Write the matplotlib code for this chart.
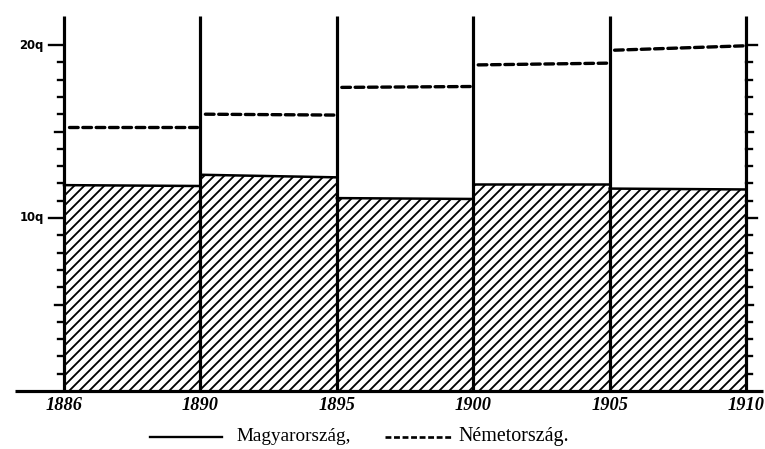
import matplotlib
matplotlib.use("Agg")
import matplotlib.pyplot as plt
import numpy as np

# ---- data ----
years = ["1886", "1890", "1895", "1900", "1905", "1910"]
# Magyarország (hatched area): value at start and end of each period (q)
hu_start = [11.9, 12.5, 11.15, 11.97, 11.7]
hu_end = [11.85, 12.35, 11.1, 11.97, 11.65]
# Németország (dashed line): value at start and end of each period (q)
de_start = [15.25, 16.0, 17.55, 18.85, 19.7]
de_end = [15.25, 15.95, 17.6, 18.95, 19.95]
ytick_labels = {10: "10q", 20: "20q"}

DPI = 120
fig = plt.figure(figsize=(765 / DPI, 449 / DPI), dpi=DPI)
ax = fig.add_axes([0, 0, 1, 1])
ax.axis("off")
PX_X = 136.4   # pixels per period
PX_Y = 17.3    # pixels per q
x0_px, y0_px = 64, 391
ax.set_xlim(-x0_px / PX_X, (765 - x0_px) / PX_X)
ax.set_ylim((y0_px - 449) / PX_Y, y0_px / PX_Y)

def dx(px):
    return px / PX_X

def dy(px):
    return px / PX_Y

pos = np.arange(len(years))
plt.rcParams["hatch.linewidth"] = 1.1

# hatched areas
for i in range(len(hu_start)):
    xs = [pos[i], pos[i + 1]]
    ax.fill_between(xs, [0, 0], [hu_start[i], hu_end[i]], facecolor="white",
                    edgecolor="black", hatch="////", linewidth=0, zorder=1)
    ax.plot(xs, [hu_start[i], hu_end[i]], color="black", lw=1.5, zorder=3)
    ax.plot([pos[i] + dx(5), pos[i + 1] - dx(3)], [de_start[i], de_end[i]],
            color="black", lw=2.0, dashes=(2.6, 1.4), solid_capstyle="round",
            dash_capstyle="round", zorder=3)

# vertical year lines
top = 21.7
ax.vlines(pos, 0, top, color="black", lw=1.9, zorder=4)
# baseline
ax.hlines(0, dx(15 - x0_px), dx(763 - x0_px), color="black", lw=1.9, zorder=4)

# ticks on left and right axes
for v in range(1, 21):
    if v % 10 == 0:
        ll, lr = 15, 11
    elif v % 5 == 0:
        ll, lr = 9, 7
    else:
        ll, lr = 6, 6
    ax.plot([pos[0] - dx(ll), pos[0]], [v, v], color="black", lw=1.4, zorder=4)
    ax.plot([pos[-1], pos[-1] + dx(lr)], [v, v], color="black", lw=1.4, zorder=4)

for v, lab in ytick_labels.items():
    ax.text(pos[0] - dx(20), v, lab, ha="right", va="center",
            fontsize=7, fontweight="bold", family="DejaVu Sans")

for p, yr in zip(pos, years):
    ax.text(p, -dy(14), yr, ha="center", va="center", fontsize=11,
            fontweight="bold", style="italic", family="Liberation Serif")

# legend
ly = -dy(46)
ax.plot([dx(150 - x0_px), dx(222 - x0_px)], [ly, ly], color="black", lw=1.4)
ax.text(dx(236 - x0_px), -dy(50), "Magyarország,", ha="left", va="baseline",
        fontsize=11.5, family="Liberation Serif")
ax.plot([dx(385 - x0_px), dx(452 - x0_px)], [ly, ly], color="black", lw=1.6,
        dashes=(2.2, 1.0))
ax.text(dx(458 - x0_px), -dy(50), "Németország.", ha="left", va="baseline",
        fontsize=12, family="Liberation Serif")

fig.savefig("out.png", dpi=DPI, facecolor="white")
